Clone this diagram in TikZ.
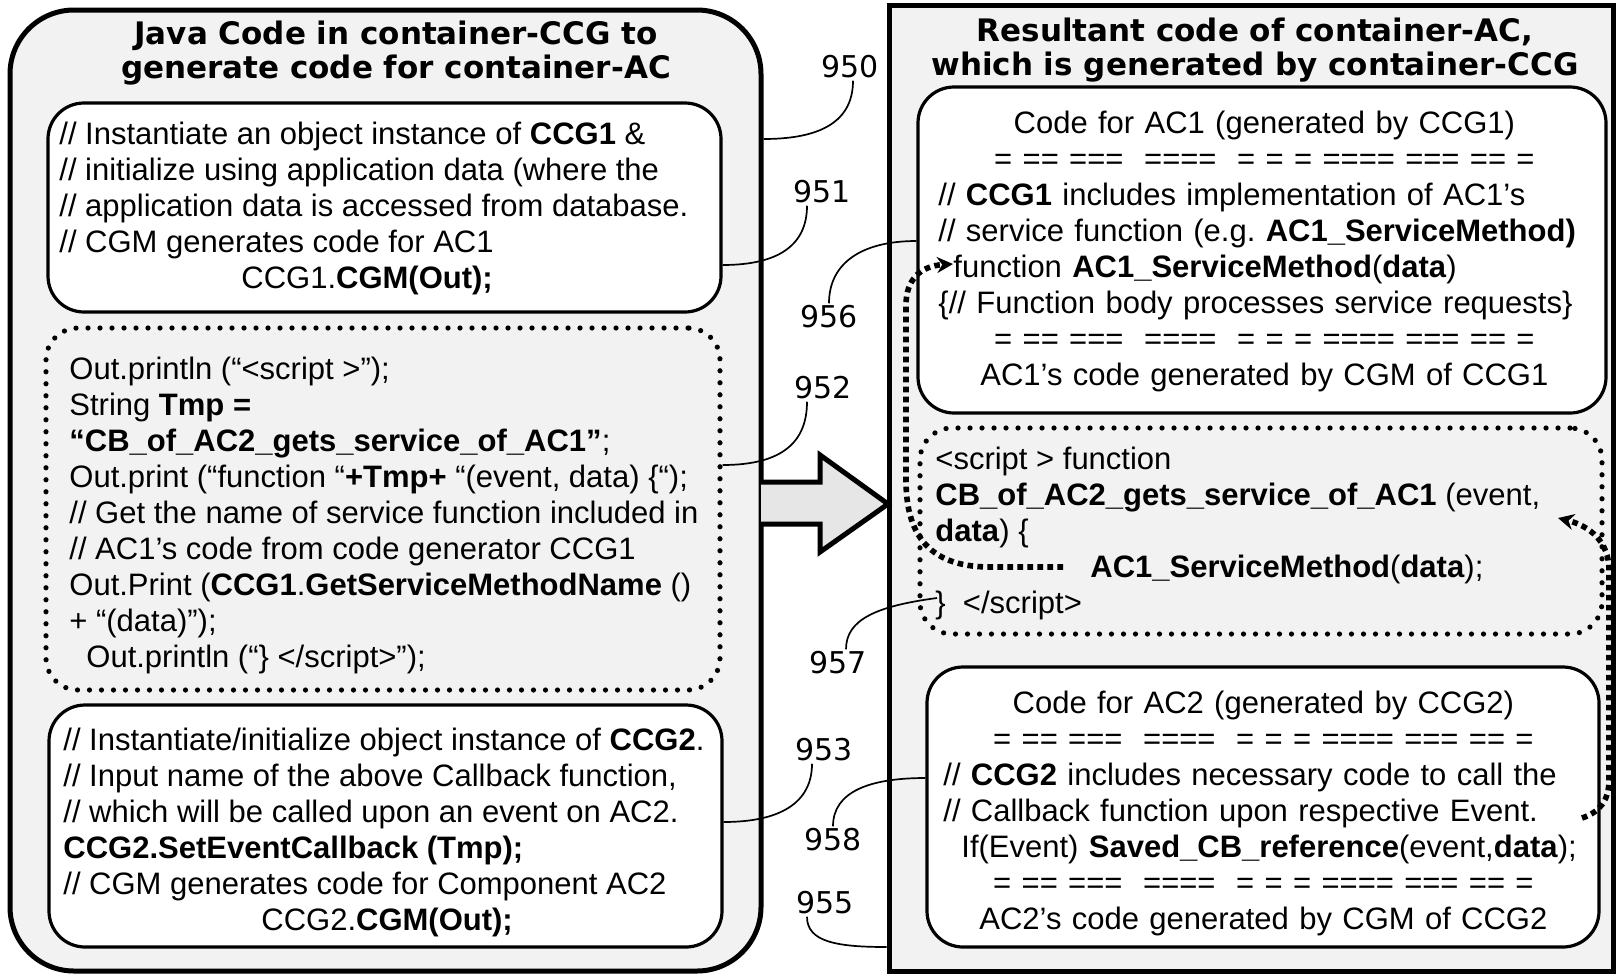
\documentclass[tikz,border=0pt]{standalone}
\usepackage{fontspec}
\setmainfont{Liberation Sans}
\newfontfamily\headfont{DejaVu Sans}
\usetikzlibrary{arrows.meta}

\definecolor{panelgray}{HTML}{F2F2F2}
\definecolor{arrowgray}{HTML}{E6E6E6}
\newcommand{\eqrow}{=~==~===~~====~~=~=~=~====~===~==~=}
\newcommand{\mline}[1]{\hspace*{\fill}#1\hspace*{\fill}\mbox{}}

\begin{document}
\begin{tikzpicture}[x=0.5pt,y=-0.5pt,
  outerbox/.style={draw,line width=2.5pt,fill=panelgray,inner sep=0pt},
  codebox/.style={draw,line width=1.6pt,fill=white,rounded corners=18pt,inner sep=0pt},
  dotbox/.style={draw,line width=2.6pt,line cap=round,dash pattern=on 0pt off 6pt,rounded corners=16pt,inner sep=0pt},
  codetext/.style={anchor=west,align=left,inner sep=0pt,font=\fontsize{15.5pt}{18pt}\selectfont},
  headtext/.style={align=center,inner sep=0pt,font=\headfont\bfseries\fontsize{15.5pt}{17pt}\selectfont},
  refnum/.style={inner sep=1pt,font=\headfont\fontsize{15pt}{18pt}\selectfont},
  leader/.style={line width=0.85pt},
  flowarrow/.style={line width=2.8pt,dash pattern=on 2.8pt off 2.2pt,-{Stealth[length=8pt,width=8pt]}}]
\useasboundingbox (0,0) rectangle (1617,975);

% the two panels
\node[outerbox,rounded corners=32pt,minimum width=375.5pt,minimum height=480.5pt] (javabox) at (385.5,490.5) {};
\node[outerbox,minimum width=362pt,minimum height=483pt] (resultbox) at (1251,488) {};
\draw[line width=2.5pt,fill=arrowgray,line join=miter] (761,482) -- (820,482) -- (820,455) -- (888,504) -- (820,552) -- (820,524) -- (761,524);

\node[headtext] (javatitle) at (396,53) {Java Code in container-CCG to\\generate code for container-AC};
\node[headtext] (resulttitle) at (1255,50) {Resultant code of container-AC,\\which is generated by container-CCG};

% left panel
\node[codebox,minimum width=336.5pt,minimum height=104.5pt] (ccgone) at (384.5,207.5) {};
\node[codetext] (ccgonetext) at (59,208) {// Instantiate an object instance of \textbf{CCG1} \&\\
// initialize using application data (where the\\
// application data is accessed from database.\\
// CGM generates code for AC1\\
\hspace*{91pt}CCG1.\textbf{CGM(Out);}};

\node[dotbox,minimum width=337pt,minimum height=181pt] (scriptgen) at (383,509) {};
\node[codetext] (scriptgentext) at (69,515) {Out.println (“<script >”);\\
String \textbf{Tmp =}\\
\textbf{“CB\_of\_AC2\_gets\_service\_of\_AC1”};\\
Out.print (“function “\textbf{+Tmp+} “(event, data) \{“);\\
// Get the name of service function included in\\
// AC1’s code from code generator CCG1\\
Out.Print (\textbf{CCG1}.\textbf{GetServiceMethodName} ()\\
+ “(data)”);\\
\hspace*{8.5pt}Out.println (“\} </script>”);};

\node[codebox,minimum width=336.5pt,minimum height=121pt] (ccgtwo) at (385.5,826) {};
\node[codetext] (ccgtwotext) at (63,832) {// Instantiate/initialize object instance of \textbf{CCG2}.\\
// Input name of the above Callback function,\\
// which will be called upon an event on AC2.\\
\textbf{CCG2.SetEventCallback (Tmp);}\\
// CGM generates code for Component AC2\\
\hspace*{99pt}CCG2.\textbf{CGM(Out);}};

% right panel
\node[codebox,minimum width=344pt,minimum height=163pt] (acone) at (1262,250) {};
\node[codetext,text width=326pt] (aconetext) at (938,251) {\mline{Code for AC1 (generated by CCG1)}\\
\mline{\eqrow}\\
// \textbf{CCG1} includes implementation of AC1’s\\
// service function (e.g.\ \textbf{AC1\_ServiceMethod)}\\
\hspace*{7.5pt}function \textbf{AC1\_ServiceMethod}(\textbf{data})\\
\{// Function body processes service requests\}\\
\mline{\eqrow}\\
\mline{AC1’s code generated by CGM of CCG1}};

\node[dotbox,minimum width=341pt,minimum height=103pt] (cbscript) at (1261,531) {};
\node[codetext] (cbscripttext) at (935,533) {<script > function\\
\textbf{CB\_of\_AC2\_gets\_service\_of\_AC1} (event,\\
\textbf{data}) \{\\
\hspace*{77.5pt}\textbf{AC1\_ServiceMethod}(\textbf{data});\\
\}~~</script>};

\node[codebox,minimum width=336pt,minimum height=140pt] (actwo) at (1263,807) {};
\node[codetext,text width=320pt] (actwotext) at (943,813) {\mline{Code for AC2 (generated by CCG2)}\\
\mline{\eqrow}\\
// \textbf{CCG2} includes necessary code to call the\\
// Callback function upon respective Event.\\
\hspace*{9pt}If(Event) \textbf{Saved\_CB\_reference}(event,\textbf{data});\\
\mline{\eqrow}\\
\mline{AC2’s code generated by CGM of CCG2}};

% dotted call arrows
\coordinate (svccall) at (1063,567);
\coordinate (svcdef) at (953,264);
\coordinate (cbfire) at (1582,818);
\coordinate (cbdef) at (1558,518);
\draw[flowarrow] (svccall) -- (990,567) .. controls (925,567) and (906,530) .. (906,480) -- (906,305) .. controls (906,280) and (920,266) .. (svcdef);
\draw[flowarrow] (cbfire) .. controls (1600,812) and (1609,800) .. (1609,780) -- (1609,570) .. controls (1609,542) and (1590,526) .. (cbdef);

% reference numerals
\node[refnum] (n950) at (850,67) {950};
\node[refnum] (n951) at (822,192) {951};
\node[refnum] (n952) at (823,388) {952};
\node[refnum] (n953) at (824,750) {953};
\node[refnum] (n955) at (825,903) {955};
\node[refnum] (n956) at (829,317) {956};
\node[refnum] (n957) at (838,663) {957};
\node[refnum] (n958) at (833,840) {958};

\coordinate (e950) at (javabox.east |- 0,139);
\coordinate (e951) at (ccgone.east |- 0,265);
\coordinate (e952) at (scriptgen.east |- 0,465);
\coordinate (e953) at (ccgtwo.east |- 0,822);
\coordinate (e955) at (resultbox.west |- 0,947);
\coordinate (e956) at (acone.west |- 0,241);
\coordinate (e957) at (937,598);
\coordinate (e958) at (actwo.west |- 0,778);

\draw[leader] ([xshift=1.5pt]n950.south) .. controls +(0,45) and +(50,0) .. (e950);
\draw[leader] ([xshift=-7.5pt]n951.south) .. controls +(0,40) and +(55,0) .. (e951);
\draw[leader] ([xshift=-8pt]n952.south) .. controls +(0,40) and +(60,0) .. (e952);
\draw[leader] ([xshift=-6pt]n953.south) .. controls +(0,40) and +(55,0) .. (e953);
\draw[leader] ([xshift=-9pt]n955.south) .. controls +(0,25) and +(-50,0) .. (e955);
\draw[leader] (n956.north) .. controls +(0,-40) and +(-55,0) .. (e956);
\draw[leader] ([xshift=4pt]n957.north) .. controls +(0,-30) and +(-60,8) .. (e957);
\draw[leader] (n958.north) .. controls +(0,-35) and +(-55,0) .. (e958);
\end{tikzpicture}
\end{document}
